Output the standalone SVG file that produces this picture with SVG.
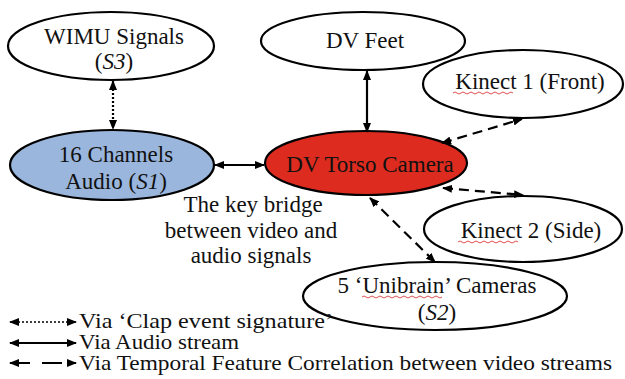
<svg xmlns="http://www.w3.org/2000/svg" width="625" height="379" viewBox="0 0 625 379">
<defs>
<style>
.n{fill:#fff;stroke:#000;stroke-width:2.2}
.t{font-family:"Liberation Serif","Times New Roman",serif;font-size:23px;fill:#111;text-anchor:middle}
.l{font-family:"Liberation Serif","Times New Roman",serif;font-size:21px;fill:#111}
.c{fill:none;stroke:#000;stroke-width:2.2}
.dot{stroke-dasharray:2 2}
.dash{stroke-dasharray:10 6}
.sq{fill:none;stroke:#e05050;stroke-width:1}
</style>
<marker id="ah" markerWidth="10" markerHeight="8" refX="9" refY="4" orient="auto-start-reverse" markerUnits="userSpaceOnUse">
<path d="M0,0 L10,4 L0,8 Z" fill="#000"/>
</marker>
</defs>
<rect width="625" height="379" fill="#fff"/>
<g id="wimu">
<ellipse class="n" cx="111" cy="46" rx="103" ry="34"/>
<text class="t" x="114" y="44">WIMU Signals</text>
<text class="t" x="114" y="69">(<tspan font-style="italic">S3</tspan>)</text>
</g>
<g id="audio">
<ellipse class="n" cx="112" cy="165" rx="102" ry="35" style="fill:#9ab6dc"/>
<text class="t" x="116" y="162">16 Channels</text>
<text class="t" x="116" y="189">Audio (<tspan font-style="italic">S1</tspan>)</text>
</g>
<g id="feet">
<ellipse class="n" cx="363" cy="41" rx="102" ry="29"/>
<text class="t" x="365" y="48">DV Feet</text>
</g>
<g id="kinect1">
<ellipse class="n" cx="523" cy="84" rx="100" ry="34"/>
<text class="t" x="530" y="89">Kinect 1 (Front)</text>
<path class="sq" d="M453,93 q2,-2 4,0 t4,0 t4,0 t4,0 t4,0 t4,0 t4,0 t4,0 t4,0 t4,0 t4,0 t4,0 t4,0 t4,0 t4,0"/>
</g>
<g id="torso">
<ellipse class="n" cx="366" cy="163" rx="101" ry="32" style="fill:#dd2c1f"/>
<text class="t" x="370" y="172">DV Torso Camera</text>
</g>
<g id="kinect2">
<ellipse class="n" cx="523" cy="229" rx="99" ry="33"/>
<text class="t" x="531" y="238">Kinect 2 (Side)</text>
<path class="sq" d="M458,242 q2,-2 4,0 t4,0 t4,0 t4,0 t4,0 t4,0 t4,0 t4,0 t4,0 t4,0 t4,0 t4,0 t4,0 t4,0 t4,0"/>
</g>
<g id="unibrain">
<ellipse class="n" cx="435" cy="296" rx="132" ry="34"/>
<text class="t" x="437" y="293">5 ‘Unibrain’ Cameras</text>
<text class="t" x="437" y="320">(<tspan font-style="italic">S2</tspan>)</text>
<path class="sq" d="M362,297 q2,-2 4,0 t4,0 t4,0 t4,0 t4,0 t4,0 t4,0 t4,0 t4,0 t4,0 t4,0 t4,0 t4,0 t4,0 t4,0 t4,0 t4,0 t4,0 t4,0 t4,0"/>
</g>
<g id="bridge-note">
<text class="t" x="253" y="212">The key bridge</text>
<text class="t" x="251" y="238">between video and</text>
<text class="t" x="251" y="263">audio signals</text>
</g>
<g id="connectors">
<line class="c dot" x1="113" y1="81" x2="113" y2="129" marker-start="url(#ah)" marker-end="url(#ah)"/>
<line class="c" x1="215" y1="165" x2="264" y2="165" marker-start="url(#ah)" marker-end="url(#ah)"/>
<line class="c" x1="367" y1="71" x2="367" y2="132" marker-start="url(#ah)" marker-end="url(#ah)"/>
<line class="c dash" x1="442" y1="143" x2="522" y2="119" marker-start="url(#ah)" marker-end="url(#ah)"/>
<line class="c dash" x1="443" y1="188" x2="523" y2="195" marker-start="url(#ah)" marker-end="url(#ah)"/>
<line class="c dash" x1="370" y1="198" x2="435" y2="262" marker-start="url(#ah)" marker-end="url(#ah)"/>
</g>
<g id="legend">
<line class="c dot" x1="10" y1="322" x2="76" y2="322" marker-start="url(#ah)" marker-end="url(#ah)" style="stroke-width:1.5"/>
<line class="c" x1="10" y1="343" x2="76" y2="343" marker-start="url(#ah)" marker-end="url(#ah)"/>
<line class="c" x1="10" y1="363" x2="76" y2="363" marker-start="url(#ah)" marker-end="url(#ah)" style="stroke-dasharray:20 12"/>
<text class="l" x="79" y="328" textLength="254" lengthAdjust="spacingAndGlyphs">Via ‘Clap event signature’</text>
<text class="l" x="79" y="349" textLength="160" lengthAdjust="spacingAndGlyphs">Via Audio stream</text>
<text class="l" x="79" y="370" textLength="533" lengthAdjust="spacingAndGlyphs">Via Temporal Feature Correlation between video streams</text>
</g>
</svg>
